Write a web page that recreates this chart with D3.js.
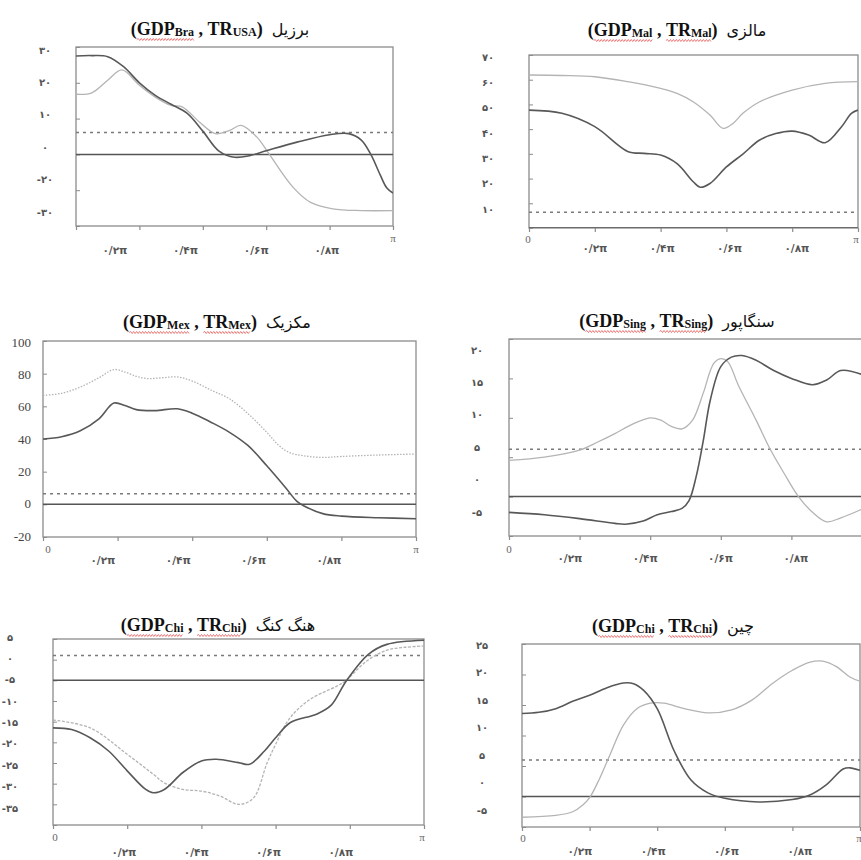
<!DOCTYPE html>
<html><head><meta charset="utf-8">
<script src="https://cdn.jsdelivr.net/npm/d3@7"></script>
<style>body{margin:0;background:#fff}svg{display:block}</style>
</head><body><svg id="c" width="861" height="860"></svg>
<script>
// ---------- data ----------
const countries = ["برزیل","مالزی","مکزیک","سنگاپور","هنگ کنگ","چین"];
const gdpSubs = ["Bra","Mal","Mex","Sing","Chi","Chi"];
const trSubs  = ["USA","Mal","Mex","Sing","Chi","Chi"];
const xTickValues = [0.2,0.4,0.6,0.8];          // fractions of π
const xTickLabels = ["۰/۲π","۰/۴π","۰/۶π","۰/۸π"];
const yDomains = [[-20,30],[0,70],[-20,100],[-5,20],[-35,10],[-5,25]];
const yTickSteps = [10,10,20,5,5,5];
const yTickLabels = [
  ["۳۰","۲۰","۱۰","۰","-۲۰","-۳۰"],
  ["۷۰","۶۰","۵۰","۴۰","۳۰","۲۰","۱۰"],
  ["100","80","60","40","20","0","-20"],
  ["۲۰","۱۵","۱۰","۵","۰","-۵"],
  ["۵","۰","-۵","-۱۰","-۱۵","-۲۰","-۲۵","-۳۰","-۳۵"],
  ["۲۵","۲۰","۱۵","۱۰","۵","۰","-۵"]
];
const criticalValues = [6.1, 6.4, 6.5, 6, 6, 6];

const braGDP = [[0,27.5],[0.05,27.6],[0.1,27.3],[0.15,24.5],[0.2,20],[0.25,16.5],[0.3,14],[0.35,11.5],[0.4,6.5],[0.45,1],[0.5,-0.8],[0.55,-0.3],[0.6,1],[0.7,3.5],[0.8,5.5],[0.86,5.8],[0.9,4],[0.93,0],[0.96,-5.8],[0.98,-9.3],[1,-10.8]];
const braTR  = [[0,16.8],[0.05,17.2],[0.1,20.7],[0.145,23.6],[0.2,19.3],[0.25,16],[0.3,13.7],[0.335,13.3],[0.39,9],[0.44,5.8],[0.485,6.7],[0.52,8.1],[0.57,4.9],[0.61,0],[0.685,-9.2],[0.74,-13.4],[0.81,-15.2],[0.9,-15.7],[1,-15.7]];
const malGDP = [[0,47.7],[0.1,46.4],[0.2,41],[0.3,31],[0.35,30.2],[0.4,29.5],[0.45,26],[0.5,18.6],[0.52,16.5],[0.55,18],[0.6,24.7],[0.65,29.9],[0.7,35.5],[0.75,38.2],[0.8,39.2],[0.85,37.6],[0.9,34.5],[0.95,41],[0.98,46.4],[1,47.7]];
const malTR  = [[0,61.9],[0.1,61.7],[0.2,61.2],[0.3,59.2],[0.4,56.5],[0.45,54.5],[0.5,51],[0.55,45.7],[0.59,40.3],[0.62,42.3],[0.65,46.4],[0.7,51],[0.8,55.8],[0.9,58.5],[1,59.2]];
const mexGDP = [[0,40],[0.05,41.4],[0.1,45],[0.15,52.3],[0.19,62],[0.22,60.5],[0.25,58],[0.3,57.4],[0.36,58.5],[0.4,55.8],[0.45,50.3],[0.5,44.1],[0.55,35.9],[0.6,23.6],[0.65,10.3],[0.68,2],[0.7,-1],[0.75,-5.7],[0.8,-7.2],[0.9,-8.2],[1,-8.8]];
const mexTR  = [[0,66.7],[0.05,68],[0.1,71.8],[0.15,77.5],[0.19,82.5],[0.22,81],[0.25,78.4],[0.28,77],[0.32,77.5],[0.36,78],[0.4,75.5],[0.45,70],[0.5,64.6],[0.55,55.4],[0.6,44.1],[0.63,36.5],[0.66,31.8],[0.7,29.7],[0.75,28.7],[0.8,29.3],[0.9,30.2],[1,30.8]];
const singGDP = [[0,-2],[0.1,-2.3],[0.2,-2.8],[0.3,-3.4],[0.33,-3.5],[0.38,-3.1],[0.42,-2.3],[0.46,-1.9],[0.49,-1.5],[0.51,-0.5],[0.53,2.5],[0.55,7],[0.57,12.2],[0.6,16.5],[0.63,17.7],[0.66,17.9],[0.7,17.3],[0.75,16],[0.8,15],[0.86,14.2],[0.9,14.8],[0.94,16],[1,15.5]];
const singTR  = [[0,4.6],[0.1,5],[0.2,5.9],[0.25,6.9],[0.3,8],[0.35,9.2],[0.4,10],[0.43,9.7],[0.46,8.9],[0.49,8.6],[0.52,9.7],[0.55,13.1],[0.58,16.9],[0.6,17.5],[0.62,17.1],[0.65,14.1],[0.7,9.7],[0.74,6],[0.78,2.9],[0.82,0],[0.86,-2],[0.9,-3.2],[0.94,-2.7],[1,-1.6]];
const hkGDP = [[0,-11.5],[0.05,-11.9],[0.1,-13.9],[0.15,-17.1],[0.2,-21.9],[0.25,-26.4],[0.27,-27.2],[0.3,-26.4],[0.35,-22.3],[0.4,-19.5],[0.44,-19.1],[0.5,-19.9],[0.53,-20.3],[0.57,-17.1],[0.6,-13.9],[0.64,-10.2],[0.71,-8.2],[0.75,-6],[0.79,-0.2],[0.85,6.3],[0.9,8.7],[1,9.7]];
const hkTR  = [[0,-9.6],[0.1,-11.5],[0.2,-17.9],[0.27,-22.7],[0.3,-24.8],[0.35,-26.4],[0.4,-26.8],[0.45,-28],[0.5,-30],[0.54,-28.5],[0.577,-20],[0.6,-15.5],[0.63,-10.2],[0.66,-7],[0.7,-4.2],[0.765,-1.4],[0.79,0],[0.846,4.7],[0.9,7.3],[0.95,8],[1,8.3]];
const chiGDP = [[0,13.6],[0.05,13.8],[0.1,14.4],[0.15,15.6],[0.2,16.6],[0.25,17.8],[0.3,18.6],[0.33,18.5],[0.36,17.4],[0.4,14.4],[0.45,7.5],[0.5,2.7],[0.55,0.6],[0.6,-0.3],[0.7,-0.9],[0.8,-0.5],[0.85,0.2],[0.9,1.9],[0.95,4.5],[0.97,4.7],[1,4.3]];
const chiTR  = [[0,-3.4],[0.1,-3.1],[0.15,-2.5],[0.18,-1.4],[0.2,-0.2],[0.23,3],[0.26,6.8],[0.3,11.7],[0.34,14.4],[0.38,15.3],[0.42,15.3],[0.48,14.4],[0.55,13.7],[0.62,14.2],[0.68,15.8],[0.74,18.5],[0.8,20.7],[0.85,22],[0.89,22.2],[0.93,21.3],[0.97,19.6],[1,18.9]];

const gdpSeries = [braGDP, malGDP, mexGDP, singGDP, hkGDP, chiGDP];
const trSeries  = [braTR, malTR, mexTR, singTR, hkTR, chiTR];

// ---------- layout ----------
const layout = [
  {l:76, r:393, t:47, b:226, tx:220, ty:35,  ylx:45,  yl0:50,  yl1:212, xl0:116, xl1:328, xly:250, zero:null,    pi:[393,238], trDash:null},
  {l:529,r:858, t:55, b:228, tx:677, ty:36,  ylx:488, yl0:57,  yl1:209, xl0:596, xl1:798, xly:248, zero:[528,239],pi:[856,239], trDash:null},
  {l:43, r:416, t:341,b:537, tx:217, ty:328, ylx:31,  yl0:342, yl1:536, xl0:104, xl1:330, xly:560, zero:[48,549], pi:[416,549], trDash:"1.5,1.5", western:true},
  {l:509,r:862, t:339,b:536, tx:677, ty:327, ylx:477, yl0:350, yl1:512, xl0:571, xl1:797, xly:558, zero:[509,549],pi:null,      trDash:null},
  {l:53, r:424, t:639,b:825, tx:218, ty:631, ylx:10,  yl0:637, yl1:808, xl0:125, xl1:342, xly:852, zero:[55,837], pi:[422,837], trDash:"3,1.5"},
  {l:522,r:860, t:644,b:827, tx:673, ty:632, ylx:482, yl0:645, yl1:810, xl0:581, xl1:801, xly:851, zero:[523,838],pi:[859,838], trDash:null}
];

const svg = d3.select("#c");
const defs = svg.append("defs");
const serif = "'Liberation Serif','Times New Roman',serif";
const fa = "'DejaVu Sans',sans-serif";

function squiggle(g, x0, x1, yy){
  let d = `M${x0},${yy}`; let up = true;
  for (let xx = x0 + 1.5; xx <= x1; xx += 1.5){ d += `L${xx},${yy + (up ? -1 : 1)}`; up = !up; }
  g.append("path").attr("d", d).attr("fill","none").attr("stroke","#e04040").attr("stroke-width",0.7);
}

function drawTitle(L, i){
  const tg = svg.append("g");
  const pieces = [
    {t:"(", fam:serif, size:18, w:"bold"},
    {t:"GDP", fam:serif, size:18, w:"bold", sq:true},
    {t:gdpSubs[i], fam:serif, size:12, w:"bold", sq:true, dy:1},
    {t:" , ", fam:serif, size:18, w:"bold"},
    {t:"TR", fam:serif, size:18, w:"bold", sq:trSubs[i] !== "USA"},
    {t:trSubs[i], fam:serif, size:12, w:"bold", sq:trSubs[i] !== "USA", dy:1},
    {t:")  ", fam:serif, size:18, w:"bold"},
    {t:countries[i], fam:fa, size:16, w:"normal", dy:0}
  ];
  let xpos = 0;
  pieces.forEach(p => {
    const t = tg.append("text").attr("x", xpos).attr("y", p.dy || 0)
      .style("white-space","pre").attr("font-family", p.fam).attr("font-size", p.size)
      .attr("font-weight", p.w).attr("fill","#111").text(p.t);
    const w = t.node().getComputedTextLength();
    p.x0 = xpos; p.x1 = xpos + w; xpos += w;
  });
  const runs = [];
  pieces.forEach(p => { if (p.sq) { const last = runs[runs.length-1]; if (last && Math.abs(last[1]-p.x0) < 0.5) last[1] = p.x1; else runs.push([p.x0, p.x1]); } });
  runs.forEach(r => squiggle(tg, r[0], r[1], 4.5));
  tg.attr("transform", `translate(${L.tx - xpos/2},${L.ty})`);
}

layout.forEach((L, i) => {
  const g = svg.append("g");
  const x = d3.scaleLinear().domain([0,1]).range([L.l, L.r]);
  const y = d3.scaleLinear().domain(yDomains[i]).range([L.b, L.t]);

  defs.append("clipPath").attr("id","clip"+i).append("rect")
    .attr("x",L.l).attr("y",L.t).attr("width",L.r-L.l).attr("height",L.b-L.t);

  g.append("rect").attr("x",L.l).attr("y",L.t).attr("width",L.r-L.l).attr("height",L.b-L.t)
    .attr("fill","none").attr("stroke","#8c8c8c").attr("stroke-width",1.3);

  const yt = d3.range(yDomains[i][0], yDomains[i][1] + 1e-9, yTickSteps[i]);
  g.append("g").attr("transform",`translate(${L.l},0)`)
    .call(d3.axisLeft(y).tickValues(yt).tickSizeInner(-4).tickSizeOuter(0).tickFormat(""))
    .call(a => { a.select(".domain").remove(); a.selectAll("line").attr("stroke","#8c8c8c").attr("stroke-width",1); });

  g.append("g").attr("transform",`translate(0,${L.b})`)
    .call(d3.axisBottom(x).tickValues([0, ...xTickValues, 1]).tickSizeInner(4).tickSizeOuter(0).tickFormat(""))
    .call(a => { a.select(".domain").remove(); a.selectAll("line").attr("stroke","#8c8c8c").attr("stroke-width",1.2); });

  const plot = g.append("g").attr("clip-path",`url(#clip${i})`);
  plot.append("line").attr("x1",L.l).attr("x2",L.r).attr("y1",y(0)).attr("y2",y(0))
    .attr("stroke","#555").attr("stroke-width",1.5);
  plot.append("line").attr("x1",L.l).attr("x2",L.r).attr("y1",y(criticalValues[i])).attr("y2",y(criticalValues[i]))
    .attr("stroke","#7a7a7a").attr("stroke-width",1.5).attr("stroke-dasharray","3,4");

  const line = d3.line().x(d => x(d[0])).y(d => y(d[1])).curve(d3.curveCatmullRom.alpha(0.5));
  plot.append("path").attr("d", line(trSeries[i])).attr("fill","none")
    .attr("stroke","#b4b4b4").attr("stroke-width",1.3).attr("stroke-dasharray", L.trDash);
  plot.append("path").attr("d", line(gdpSeries[i])).attr("fill","none")
    .attr("stroke","#585858").attr("stroke-width",1.6);

  const labs = yTickLabels[i];
  const ly = d3.scaleLinear().domain([0, labs.length-1]).range([L.yl0, L.yl1]);
  g.append("g").selectAll("text").data(labs).join("text")
    .attr("x", L.ylx).attr("y", (d,k) => ly(k)).attr("dominant-baseline","central")
    .attr("text-anchor", L.western ? "end" : "middle")
    .attr("font-family", L.western ? serif : fa).attr("font-size", L.western ? 13 : 10)
    .attr("font-weight", L.western ? "normal" : "bold")
    .attr("fill", L.western ? "#444" : "#555").text(d => d);

  const lx = d3.scaleLinear().domain([xTickValues[0], xTickValues[xTickValues.length-1]]).range([L.xl0, L.xl1]);
  g.append("g").selectAll("text").data(xTickValues).join("text")
    .attr("x", d => lx(d)).attr("y", L.xly).attr("dominant-baseline","central").attr("text-anchor","middle")
    .attr("font-family", fa).attr("font-size", 10.5).attr("font-weight","bold").attr("letter-spacing",2.2)
    .attr("fill","#555").text((d,k) => xTickLabels[k]);
  if (L.zero) g.append("text").attr("x",L.zero[0]).attr("y",L.zero[1]).attr("dominant-baseline","central")
    .attr("text-anchor","middle").attr("font-family",serif).attr("font-size",11).attr("fill","#666").text("0");
  if (L.pi) g.append("text").attr("x",L.pi[0]).attr("y",L.pi[1]).attr("dominant-baseline","central")
    .attr("text-anchor","middle").attr("font-family",serif).attr("font-size",11).attr("fill","#666").text("π");

  drawTitle(L, i);
});
</script></body></html>
